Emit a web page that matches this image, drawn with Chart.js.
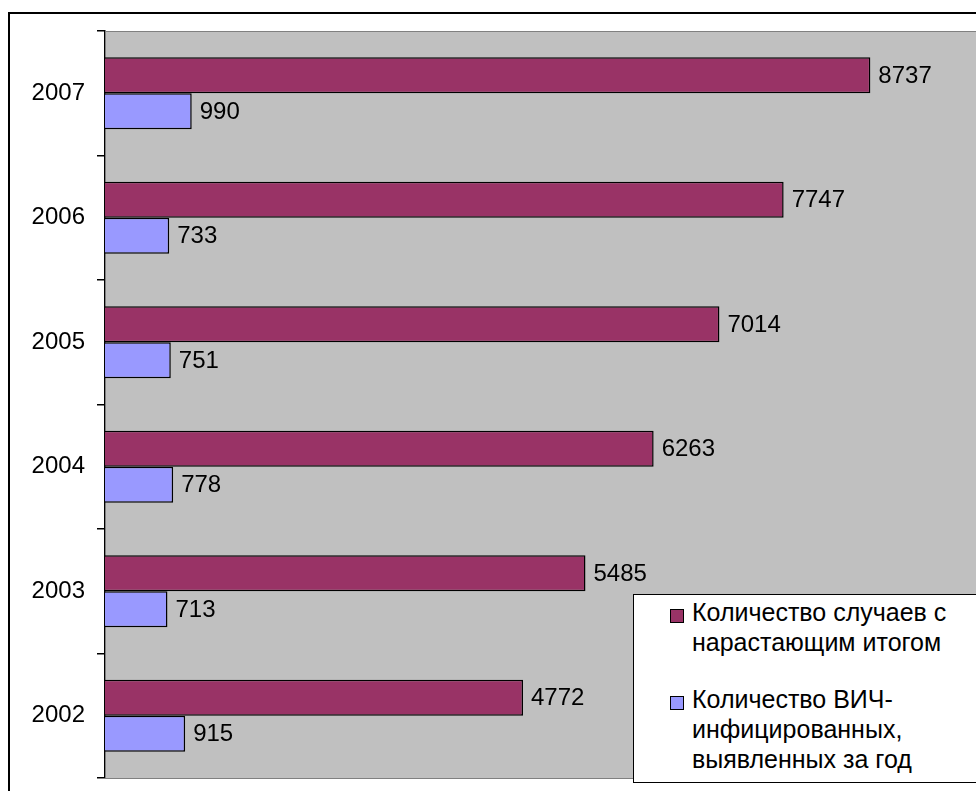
<!DOCTYPE html>
<html>
<head>
<meta charset="utf-8">
<script src="https://cdn.jsdelivr.net/npm/chart.js@4/dist/chart.umd.min.js"></script>
<style>
    html, body { margin: 0; padding: 0; overflow: hidden; background: #fff; width: 976px; height: 791px; }
    #frame { position: absolute; left: 8px; top: 12px; width: 1100px; height: 900px; border-left: 2px solid #000; border-top: 2px solid #000; }
    #wrap { position: absolute; left: 0; top: 0; width: 981px; height: 791px; }
    #legend { position: absolute; left: 633px; top: 594px; width: 400px; height: 187px; background: #fff; border: 1px solid #000;
        font-family: Arial, "Liberation Sans", sans-serif; font-size: 25px; line-height: 30px; color: #000; }
    .item { position: absolute; left: 58px; white-space: nowrap; }
    .swatch { position: absolute; left: -22px; top: 12px; width: 12px; height: 12px; border: 1px solid #000; }
</style>
</head>
<body>
<div id="frame"></div>
<div id="wrap"><canvas id="hivChart" width="981" height="791"></canvas></div>
<div id="legend"></div>
<script>
const years = ['2002', '2003', '2004', '2005', '2006', '2007'];
const cumulativeCases = [4772, 5485, 6263, 7014, 7747, 8737];
const newCases = [915, 713, 778, 751, 733, 990];
const seriesNames = [
    ['Количество случаев с', 'нарастающим итогом'],
    ['Количество ВИЧ-', 'инфицированных,', 'выявленных за год']
];
const seriesColors = ['#993366', '#9999FF'];

const font = 'Arial, "Liberation Sans", sans-serif';

// gray plot area behind the bars
const plotBackground = {
    id: 'plotBackground',
    beforeDatasetsDraw(chart) {
        const { ctx, chartArea: a } = chart;
        ctx.save();
        ctx.fillStyle = '#C0C0C0';
        ctx.fillRect(a.left, a.top, a.right - a.left, a.bottom - a.top);
        ctx.strokeStyle = '#808080';
        ctx.lineWidth = 1;
        ctx.strokeRect(a.left + 0.5, a.top + 0.5, a.right - a.left, a.bottom - a.top);
        ctx.restore();
    }
};

// value labels at the end of each bar
const valueLabels = {
    id: 'valueLabels',
    afterDatasetsDraw(chart) {
        const ctx = chart.ctx;
        ctx.save();
        ctx.font = '24px ' + font;
        ctx.fillStyle = '#000';
        ctx.textBaseline = 'middle';
        chart.data.datasets.forEach((ds, i) => {
            chart.getDatasetMeta(i).data.forEach((bar, j) => {
                ctx.fillText(String(ds.data[j]), bar.x + 8, bar.y + 1);
            });
        });
        ctx.restore();
    }
};

const datasets = seriesNames.map((name, i) => ({
    label: name.join(' '),
    data: i === 0 ? cumulativeCases : newCases,
    backgroundColor: seriesColors[i],
    borderColor: '#000',
    borderWidth: 1.5,
    borderSkipped: 'left',
    categoryPercentage: 0.578,
    barPercentage: 1.0
}));

new Chart(document.getElementById('hivChart'), {
    type: 'bar',
    data: { labels: years, datasets: datasets },
    options: {
        indexAxis: 'y',
        responsive: false,
        animation: false,
        layout: { padding: { top: 31, bottom: 13, left: 0, right: 0 } },
        plugins: {
            legend: { display: false },
            tooltip: { enabled: false }
        },
        scales: {
            x: {
                display: false,
                min: 0,
                max: 10000
            },
            y: {
                reverse: true,
                afterFit: (scale) => {
                    scale.width = 105;
                    // no extra room for the end labels, the plot fills the frame
                    scale.paddingTop = 0;
                    scale.paddingBottom = 0;
                },
                border: { display: true, color: '#000', width: 1.5 },
                grid: {
                    offset: true,
                    drawOnChartArea: false,
                    drawTicks: true,
                    tickLength: 8,
                    color: '#000',
                    lineWidth: 1.5
                },
                ticks: {
                    color: '#000',
                    padding: 12,
                    font: { family: font, size: 24 }
                }
            }
        }
    },
    plugins: [plotBackground, valueLabels]
});

// legend box with wrapped names
const legend = document.getElementById('legend');
const tops = [2, 89];
seriesNames.forEach((lines, i) => {
    const item = document.createElement('div');
    item.className = 'item';
    item.style.top = tops[i] + 'px';
    item.innerHTML = '<span class="swatch" style="background:' + seriesColors[i] + '"></span>' + lines.join('<br>');
    legend.appendChild(item);
});
</script>
</body>
</html>
